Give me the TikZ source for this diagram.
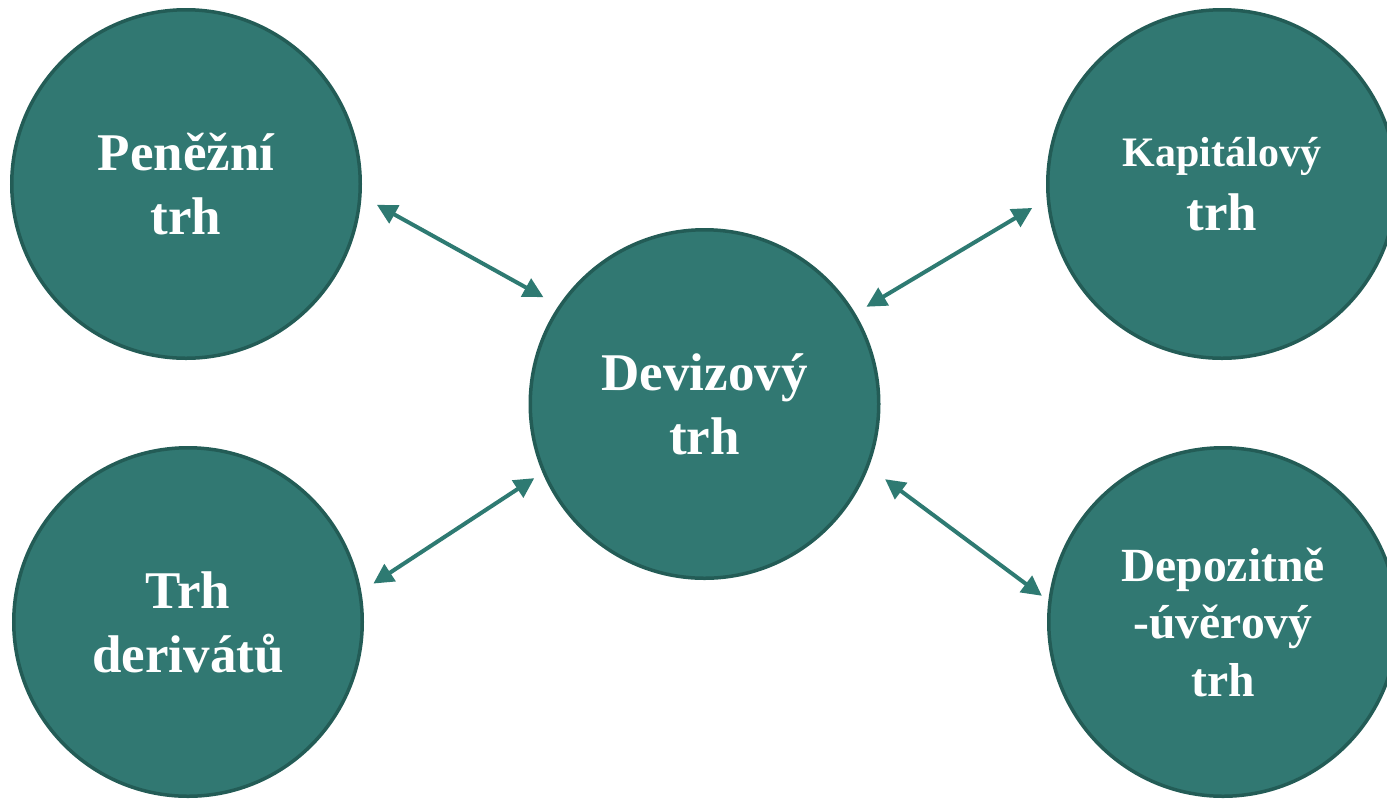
\documentclass[tikz,border=0pt]{standalone}
\usepackage{fontspec}
\setmainfont{Liberation Serif}
\usetikzlibrary{arrows.meta}
\begin{document}
\begin{tikzpicture}[x=0.5pt, y=-0.5pt,
  market/.style={circle, draw=ringcol, fill=fillcol, line width=1.75pt, minimum size=174.25pt, inner sep=0pt, text=white, align=center, font=\bfseries\fontsize{26.5}{32}\selectfont},
  link/.style={draw=linkcol, line width=2pt, {Triangle[length=10pt,width=10pt]}-{Triangle[length=10pt,width=10pt]}}]
\definecolor{fillcol}{HTML}{317872}
\definecolor{ringcol}{HTML}{235C56}
\definecolor{linkcol}{HTML}{2E7A72}
\useasboundingbox (0,0) rectangle (1387,800);
% markets
\node[market] (pen) at (186,184) {Peněžní\\trh};
\node[market] (kap) at (1222,184) {{\fontsize{21}{32}\selectfont Kapitálový}\\trh};
\node[market] (dev) at (704.5,404) {Devizový\\trh};
\node[market] (der) at (188,622) {Trh\\derivátů};
\node[market, font=\bfseries\fontsize{23.8}{28.75}\selectfont] (dep) at (1223,622) {Depozitně\\-úvěrový\\trh};
% links
\draw[link, shorten <=8.75pt, shorten >=8.65pt] (pen.-4.9) -- (dev.146.4);
\draw[link, shorten <=8.4pt, shorten >=6.45pt] (kap.185.7) -- (dev.31.3);
\draw[link, shorten <=7.2pt, shorten >=4.9pt] (der.10.1) -- (dev.203.05);
\draw[link, shorten <=10.15pt, shorten >=4pt] (dev.-21) -- (dep.173.8);
\end{tikzpicture}
\end{document}
